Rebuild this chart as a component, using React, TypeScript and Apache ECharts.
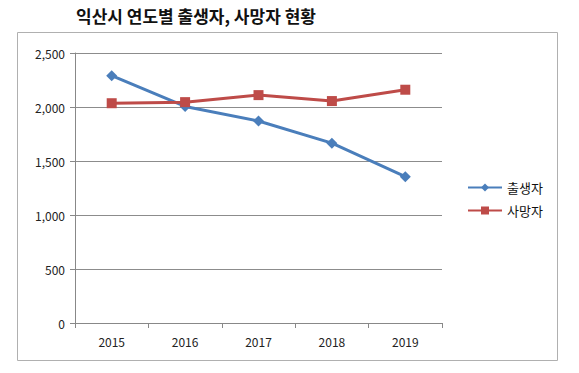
import React, { useEffect, useRef } from "react";
import * as echarts from "echarts";

const title = "익산시 연도별 출생자, 사망자 현황";
const years = ["2015", "2016", "2017", "2018", "2019"];
const seriesNames = ["출생자", "사망자"];
const births = [2290, 2005, 1870, 1665, 1355];
const deaths = [2035, 2045, 2110, 2055, 2160];

const FONT = "'Noto Sans CJK KR', 'Noto Sans', sans-serif";

export default function App() {
  const ref = useRef<HTMLDivElement>(null);
  useEffect(() => {
    const chart = echarts.init(ref.current!, undefined, { renderer: "svg" });
    chart.setOption({
      animation: false,
      backgroundColor: "#ffffff",
      textStyle: { fontFamily: FONT },
      title: {
        text: title,
        left: 71,
        top: 2,
        textStyle: { fontSize: 17, fontWeight: "bold", color: "#111", fontFamily: FONT },
      },
      graphic: [
        {
          type: "rect",
          shape: { x: 17.5, y: 32.5, width: 540, height: 328 },
          style: { fill: "none", stroke: "#b0b0b0", lineWidth: 1 },
          z: 0,
        },
      ],
      grid: { left: 75, right: 137, top: 53, bottom: 50 },
      legend: {
        orient: "vertical",
        left: 462,
        top: 176,
        itemGap: 10,
        itemWidth: 34,
        itemHeight: 10,
        textStyle: { fontSize: 13, color: "#111", fontFamily: FONT },
        data: seriesNames,
      },
      xAxis: {
        type: "category",
        data: years,
        boundaryGap: true,
        axisLine: { lineStyle: { color: "#888", width: 1 } },
        axisTick: { show: true, length: 5, lineStyle: { color: "#888" } },
        axisLabel: { fontSize: 12, color: "#222", margin: 12, fontFamily: FONT },
        splitLine: { show: false },
      },
      yAxis: {
        type: "value",
        min: 0,
        max: 2500,
        interval: 500,
        axisLine: { show: true, lineStyle: { color: "#888", width: 1 } },
        axisTick: { show: true, length: 5, lineStyle: { color: "#888" } },
        axisLabel: {
          fontSize: 12,
          color: "#222",
          margin: 10,
          fontFamily: FONT,
          formatter: (v: number) => v.toLocaleString("en-US"),
        },
        splitLine: { show: true, lineStyle: { color: "#8c8c8c", width: 1 } },
      },
      series: [
        {
          name: seriesNames[0],
          type: "line",
          data: births,
          symbol: "diamond",
          symbolSize: 11,
          lineStyle: { color: "#4A7EBB", width: 3 },
          itemStyle: { color: "#4A7EBB" },
        },
        {
          name: seriesNames[1],
          type: "line",
          data: deaths,
          symbol: "rect",
          symbolSize: 10,
          lineStyle: { color: "#BE4B48", width: 3 },
          itemStyle: { color: "#BE4B48" },
        },
      ],
    });
    return () => chart.dispose();
  }, []);
  return (
    <div
      ref={ref}
      style={{ position: "fixed", left: 0, top: 0, width: 579, height: 373 }}
    />
  );
}
